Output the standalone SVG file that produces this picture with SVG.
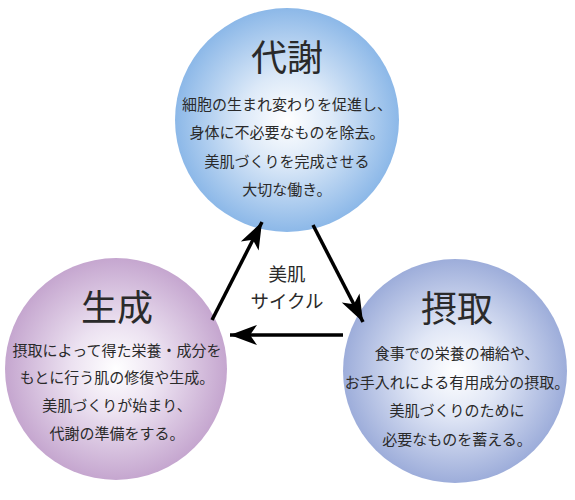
<svg xmlns="http://www.w3.org/2000/svg" width="575" height="500" viewBox="0 0 575 500">
<defs>
<radialGradient id="gTop" cx="0.5" cy="0.5" r="0.5">
<stop offset="0" stop-color="#ffffff"/>
<stop offset="0.4" stop-color="#dce9f8"/>
<stop offset="1" stop-color="#8cb8e8"/>
</radialGradient>
<radialGradient id="gLeft" cx="0.5" cy="0.5" r="0.5">
<stop offset="0" stop-color="#ffffff"/>
<stop offset="0.4" stop-color="#ece2f1"/>
<stop offset="1" stop-color="#c5a6cf"/>
</radialGradient>
<radialGradient id="gRight" cx="0.5" cy="0.5" r="0.5">
<stop offset="0" stop-color="#ffffff"/>
<stop offset="0.4" stop-color="#e1e7f6"/>
<stop offset="1" stop-color="#9dadda"/>
</radialGradient>
<marker id="ah" markerUnits="userSpaceOnUse" markerWidth="30" markerHeight="24" viewBox="-28 -11 30 22" refX="0" refY="0" orient="auto">
<path d="M0,0 L-27,-10 L-20,0 L-27,10 Z" fill="#000"/>
</marker>
<style>
text{font-family:"Noto Sans CJK JP","Noto Sans CJK SC",sans-serif;fill:#2a2a2a;text-anchor:middle;dominant-baseline:central}
.t{font-size:36px}
.b{font-size:15px}
.c{font-size:18.5px}
.conn line{stroke:#000;stroke-width:3.5;marker-end:url(#ah)}
</style>
</defs>
<g id="taisha">
<circle cx="287" cy="120" r="112" fill="url(#gTop)"/>
<text class="t" x="287" y="55">代謝</text>
<text class="b" x="287" y="103">細胞の生まれ変わりを促進し、</text>
<text class="b" x="287" y="131">身体に不必要なものを除去。</text>
<text class="b" x="287" y="160">美肌づくりを完成させる</text>
<text class="b" x="287" y="188">大切な働き。</text>
</g>
<g id="seisei">
<circle cx="116" cy="369" r="111" fill="url(#gLeft)"/>
<text class="t" x="117" y="305">生成</text>
<text class="b" x="117" y="349">摂取によって得た栄養・成分を</text>
<text class="b" x="117" y="376">もとに行う肌の修復や生成。</text>
<text class="b" x="117" y="404">美肌づくりが始まり、</text>
<text class="b" x="117" y="432">代謝の準備をする。</text>
</g>
<g id="sesshu">
<circle cx="455" cy="371" r="112" fill="url(#gRight)"/>
<text class="t" x="457" y="306">摂取</text>
<text class="b" x="457" y="352">食事での栄養の補給や、</text>
<text class="b" x="457" y="381">お手入れによる有用成分の摂取。</text>
<text class="b" x="457" y="409">美肌づくりのために</text>
<text class="b" x="457" y="438">必要なものを蓄える。</text>
</g>
<g id="label">
<text class="c" x="287" y="273">美肌</text>
<text class="c" x="287" y="300">サイクル</text>
</g>
<g class="conn" id="connectors">
<line x1="212" y1="320" x2="262" y2="222"/>
<line x1="313" y1="225" x2="363" y2="322"/>
<line x1="343" y1="335" x2="230" y2="335"/>
</g>
</svg>
